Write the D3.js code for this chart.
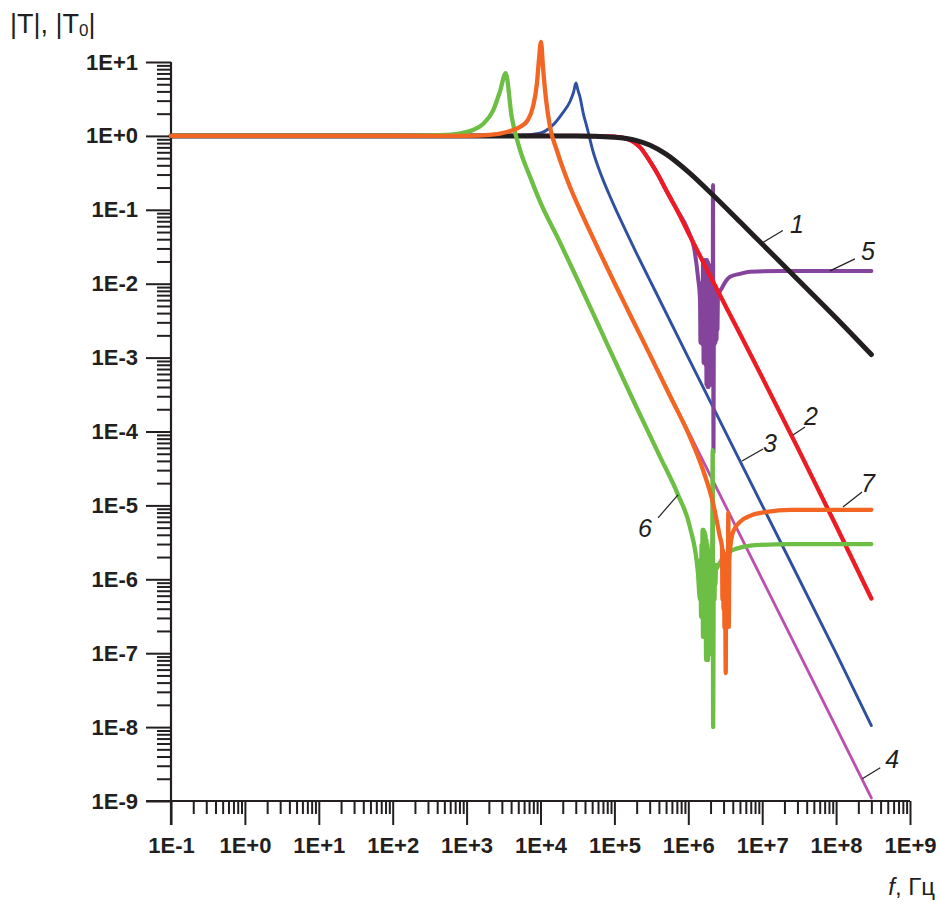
<!DOCTYPE html>
<html>
<head>
<meta charset="utf-8">
<script src="https://cdn.jsdelivr.net/npm/d3@7"></script>
<style>
  html, body { margin: 0; padding: 0; background: #fff; }
  svg { display: block; font-family: "Liberation Sans", Arial, Helvetica, sans-serif; }
</style>
</head>
<body>
<svg id="chart" width="939" height="905"></svg>
<script>
// ---- axis ticks ----
const xTicks = [1e-1, 1e0, 1e1, 1e2, 1e3, 1e4, 1e5, 1e6, 1e7, 1e8, 1e9];
const xTickLabels = ["1E-1", "1E+0", "1E+1", "1E+2", "1E+3", "1E+4", "1E+5", "1E+6", "1E+7", "1E+8", "1E+9"];
const yTicks = [1e-9, 1e-8, 1e-7, 1e-6, 1e-5, 1e-4, 1e-3, 1e-2, 1e-1, 1e0, 1e1];
const yTickLabels = ["1E-9", "1E-8", "1E-7", "1E-6", "1E-5", "1E-4", "1E-3", "1E-2", "1E-1", "1E+0", "1E+1"];

// ---- series: frequency, Hz / transfer magnitude ----
// 1 — black
const freq1 = [0.1, 1e3, 3e4, 1e5, 2e5, 3e5, 5e5, 1e6, 2e6, 5e6, 1e7, 3e7, 1e8, 3e8];
const mag1  = [1, 1, 1, 0.96, 0.865, 0.754, 0.567, 0.326, 0.17, 0.0687, 0.0344, 0.0115, 3.44e-3, 1.1e-3];

// 2 — red
const freq2 = [0.1, 1e3, 3e4, 1e5, 1.6e5, 2.2e5, 3e5, 4e5, 5e5, 7e5, 1e6, 2e6, 5e6, 1e7, 3e7, 1e8, 3e8];
const mag2  = [1, 1, 1, 0.975, 0.89, 0.71, 0.46, 0.285, 0.185, 0.1, 0.049, 0.0124, 2.1e-3, 5.4e-4, 6.1e-5, 5.3e-6, 5.5e-7];

// 3 — blue
const freq3 = [0.1, 1e3, 5e3, 9.8e3, 1.48e4, 2.0e4, 2.5e4, 2.8e4, 3.02e4, 3.2e4, 3.42e4, 3.8e4, 4.26e4, 5.13e4, 6e4, 7e4, 8.5e4, 1e5, 1.4e5, 2e5, 3e5, 1e6, 1e7, 1e8, 3e8];
const mag3  = [1, 1, 1.02, 1.09, 1.41, 2.05, 2.9, 3.9, 5.2, 4.2, 3.37, 2.0, 1.3, 0.62, 0.385, 0.256, 0.161, 0.111, 0.054, 0.0256, 0.0113, 1.0e-3, 1.0e-5, 1.0e-7, 1.05e-8];

// 4 — magenta
const freq4 = [0.1, 1e3, 2.06e3, 3.5e3, 5.25e3, 6.76e3, 7.9e3, 8.96e3, 9.53e3, 1.016e4, 1.08e4, 1.19e4, 1.35e4, 1.67e4, 2e4, 2.5e4, 3.16e4, 4.47e4, 6.3e4, 1e5, 1.6e5, 3.16e5, 1e6, 1e7, 1e8, 3e8];
const mag4  = [1, 1, 1.03, 1.13, 1.32, 1.65, 2.47, 5.2, 10.7, 18.7, 8.6, 3.07, 1.3, 0.63, 0.37, 0.205, 0.119, 0.056, 0.027, 0.0103, 3.95e-3, 1.0e-3, 1.0e-4, 1.0e-6, 1.0e-8, 1.1e-9];

// 5 — purple
const freq5 = [0.1, 1e3, 3e4, 1e5, 1.6e5, 2.2e5, 3e5, 4e5, 5e5, 7e5, 9.9e5, 1.23e6, 1.35e6, 1.44e6,
  1.46e6, 1.49e6, 1.51e6, 1.53e6, 1.56e6, 1.58e6, 1.61e6, 1.63e6, 1.66e6, 1.68e6, 1.71e6, 1.74e6, 1.76e6,
  1.79e6, 1.82e6, 1.85e6, 1.88e6, 1.91e6, 1.94e6, 1.97e6, 2.0e6, 2.03e6, 2.06e6, 2.09e6, 2.13e6, 2.16e6,
  2.19e6, 2.23e6, 2.26e6, 2.30e6, 2.33e6, 2.37e6, 2.41e6, 2.45e6, 2.48e6, 2.52e6,
  2.86e6, 3.67e6, 5.0e6, 6.84e6, 1.74e7, 3e8];
const mag5  = [1, 1, 1, 0.975, 0.89, 0.71, 0.46, 0.285, 0.185, 0.1, 0.053, 0.026, 0.0124, 6.0e-3,
  1.58e-3, 9.6e-3, 1.58e-3, 0.0103, 1.49e-3, 0.0197, 8.5e-4, 0.021, 8.5e-4, 0.0197, 8.0e-4, 0.021, 4.3e-4,
  0.021, 4.0e-4, 0.0197, 4.0e-4, 0.018, 4.3e-4, 0.0154, 4.3e-4, 0.0103, 5.0e-4, 9.6e-3, 6.8e-4, 0.217,
  5.1e-5, 8.2e-3, 1.49e-3, 8.2e-3, 1.58e-3, 7.0e-3, 1.74e-3, 6.4e-3, 2.37e-3, 6.6e-3,
  8.8e-3, 0.0124, 0.0136, 0.0145, 0.0149, 0.0149];

// 6 — green
const freq6 = [0.1, 100, 439, 817, 1.22e3, 1.67e3, 2.28e3, 2.83e3, 3.38e3, 4.07e3, 5.28e3, 7.21e3, 1e4, 1.84e4, 3.16e4, 6.38e4, 1.79e5, 4e5, 7.26e5, 1.05e6, 1.35e6,
  1.44e6, 1.46e6, 1.49e6, 1.51e6, 1.53e6, 1.56e6, 1.58e6, 1.61e6, 1.63e6, 1.66e6, 1.68e6, 1.71e6, 1.74e6,
  1.76e6, 1.79e6, 1.82e6, 1.85e6, 1.88e6, 1.91e6, 1.94e6, 1.97e6, 2.0e6, 2.03e6, 2.06e6, 2.09e6, 2.14e6,
  2.17e6, 2.20e6, 2.23e6, 2.26e6, 2.30e6, 2.33e6, 2.37e6, 2.45e6, 2.52e6,
  2.68e6, 2.95e6, 3.45e6, 4.03e6, 5.5e6, 9.34e6, 2.38e7, 3e8];
const mag6  = [1, 1, 1.02, 1.08, 1.2, 1.45, 2.2, 4.0, 7.05, 1.82, 0.647, 0.281, 0.125, 0.036, 0.0114, 2.48e-3, 2.67e-4, 4.9e-5, 1.39e-5, 5.12e-6, 1.22e-6,
  5.3e-7, 1.83e-6, 3.1e-7, 2.92e-6, 3.1e-7, 4.66e-6, 1.66e-7, 4.66e-6, 1.66e-7, 4.38e-6, 1.66e-7, 4.0e-6, 8.1e-8,
  3.41e-6, 8.1e-8, 2.92e-6, 8.1e-8, 2.5e-6, 9.5e-8, 2.14e-6, 1.51e-7, 1.83e-6, 3.1e-7, 1.57e-6, 5.3e-7, 5.6e-5,
  1.0e-8, 5.3e-7, 1.34e-6, 5.3e-7, 1.57e-6, 8.4e-7, 1.57e-6, 1.42e-6, 1.52e-6,
  1.67e-6, 2.01e-6, 2.28e-6, 2.5e-6, 2.74e-6, 2.92e-6, 3.0e-6, 3.0e-6];

// 7 — orange
const freq7 = [0.1, 1e3, 2.06e3, 3.5e3, 5.25e3, 6.76e3, 7.9e3, 8.96e3, 9.53e3, 1.016e4, 1.08e4, 1.19e4, 1.35e4, 1.67e4, 2e4, 2.5e4, 3.16e4, 4.47e4, 6.3e4, 1e5, 1.6e5, 3.16e5, 5.64e5, 1.05e6, 1.58e6, 2.16e6, 2.68e6,
  2.86e6, 2.90e6, 2.95e6, 3.0e6, 3.04e6, 3.09e6, 3.14e6, 3.21e6, 3.26e6, 3.31e6, 3.36e6, 3.42e6, 3.48e6, 3.53e6, 3.59e6,
  3.67e6, 4.03e6, 5.0e6, 6.84e6, 1.16e7, 2.38e7, 3e8];
const mag7  = [1, 1, 1.03, 1.13, 1.32, 1.65, 2.47, 5.2, 10.7, 18.7, 8.6, 3.07, 1.3, 0.63, 0.37, 0.205, 0.119, 0.056, 0.027, 0.0103, 3.95e-3, 1.0e-3, 3.05e-4, 8.45e-5, 3.02e-5, 1.08e-5, 3.75e-6,
  2.74e-6, 5.3e-7, 2.5e-6, 3.9e-7, 2.14e-6, 2.2e-7, 1.83e-6, 5.4e-8, 1.57e-6, 2.42e-7, 1.83e-6, 5.3e-7, 7.9e-6, 2.27e-7, 1.83e-6,
  2.5e-6, 4.38e-6, 5.98e-6, 7.21e-6, 8.17e-6, 8.7e-6, 8.7e-6];

// curve number annotations: label, point on the curve (Hz, magnitude)
const noteText = ["1", "2", "3", "4", "5", "6", "7"];
const noteFreq = [1.02e7, 2.61e7, 5.33e6, 2.26e8, 8.26e7, 7.26e5, 1.24e8];
const noteMag  = [0.036, 9.0e-5, 4.0e-5, 2.0e-9, 0.0149, 1.39e-5, 9.5e-6];

// ---- layout ----
const svg = d3.select("#chart");
const ink = "#231f20";
const x = d3.scaleLog().domain([1e-1, 1e9]).range([171, 910]);
const y = d3.scaleLog().domain([1e-9, 1e1]).range([801, 62]);

const minorX = [], minorY = [];
for (let e = -1; e < 9; e++) for (let k = 2; k <= 9; k++) minorX.push(k * Math.pow(10, e));
for (let e = -9; e < 1; e++) for (let k = 2; k <= 9; k++) minorY.push(k * Math.pow(10, e));

// x axis
const gx = svg.append("g").attr("transform", `translate(0,${y(1e-9)})`);
gx.append("line").attr("x1", x(1e-1) - 25).attr("x2", x(1e9)).attr("y1", 0).attr("y2", 0)
  .attr("stroke", ink).attr("stroke-width", 2.2);
gx.append("g").call(d3.axisBottom(x).tickValues(minorX).tickFormat("").tickSize(13).tickSizeOuter(0))
  .call(g => g.select(".domain").remove());
gx.append("g").call(d3.axisBottom(x).tickValues(xTicks).tickFormat((d, i) => xTickLabels[i]).tickSize(24).tickSizeOuter(0).tickPadding(12))
  .call(g => g.select(".domain").remove());

// y axis
const gy = svg.append("g").attr("transform", `translate(${x(1e-1)},0)`);
gy.append("line").attr("x1", 0).attr("x2", 0).attr("y1", y(1e1)).attr("y2", y(1e-9) + 24)
  .attr("stroke", ink).attr("stroke-width", 2.2);
gy.append("g").call(d3.axisLeft(y).tickValues(minorY).tickFormat("").tickSize(14).tickSizeOuter(0))
  .call(g => g.select(".domain").remove());
gy.append("g").call(d3.axisLeft(y).tickValues(yTicks).tickFormat((d, i) => yTickLabels[i]).tickSize(25).tickSizeOuter(0).tickPadding(8))
  .call(g => g.select(".domain").remove());

svg.selectAll(".tick line").attr("stroke", ink).attr("stroke-width", 2);
svg.selectAll(".tick text")
  .attr("fill", ink)
  .style("font-family", "'Liberation Sans', Arial, sans-serif")
  .style("font-weight", "bold")
  .style("font-size", "22px");

// axis titles
const title = svg.append("text").attr("x", 10).attr("y", 33).attr("fill", ink)
  .style("font-size", "27px");
title.append("tspan").text("|T|, |T");
title.append("tspan").attr("dy", 3).style("font-size", "17px").text("0");
title.append("tspan").attr("dy", -3).text("|");

const xTitle = svg.append("text").attr("x", 935).attr("y", 895).attr("text-anchor", "end")
  .attr("fill", ink).style("font-size", "24px");
xTitle.append("tspan").style("font-style", "italic").text("f");
xTitle.append("tspan").text(", Гц");

// ---- curves ----
const line = d3.line().x(d => x(d[0])).y(d => y(d[1])).curve(d3.curveMonotoneX);
const series = [
  { f: freq4, m: mag4, color: "#bc4fae", width: 2.8 },
  { f: freq3, m: mag3, color: "#2f4f9f", width: 2.9 },
  { f: freq5, m: mag5, color: "#85449c", width: 4 },
  { f: freq2, m: mag2, color: "#ed1c24", width: 4.3 },
  { f: freq1, m: mag1, color: "#231f20", width: 5 },
  { f: freq6, m: mag6, color: "#6cbe45", width: 4.3 },
  { f: freq7, m: mag7, color: "#f26522", width: 4.3 }
];
svg.append("g").selectAll("path").data(series).join("path")
  .attr("d", s => line(d3.zip(s.f, s.m)))
  .attr("fill", "none")
  .attr("stroke", s => s.color)
  .attr("stroke-width", s => s.width)
  .attr("stroke-linecap", "round")
  .attr("stroke-linejoin", "round");

// ---- curve numbers with leader lines ----
const noteLayout = [
  { lx: 20, ly: -12, tx: 34, ty: -10 },
  { lx: 12, ly: -8,  tx: 18, ty: -10 },
  { lx: 21, ly: -12, tx: 28, ty: -9 },
  { lx: 18, ly: -11, tx: 30, ty: -11 },
  { lx: 25, ly: -12, tx: 38, ty: -11 },
  { lx: -20, ly: 23, tx: -33, ty: 42 },
  { lx: 19, ly: -15, tx: 25, ty: -15 }
];
const notes = svg.append("g");
noteText.forEach((t, i) => {
  const px = x(noteFreq[i]), py = y(noteMag[i]), o = noteLayout[i];
  notes.append("line").attr("x1", px).attr("y1", py).attr("x2", px + o.lx).attr("y2", py + o.ly)
    .attr("stroke", ink).attr("stroke-width", 1.2);
  notes.append("text").attr("x", px + o.tx).attr("y", py + o.ty).attr("text-anchor", "middle")
    .attr("fill", ink).style("font-size", "25px").style("font-style", "italic").text(t);
});
</script>
</body>
</html>
